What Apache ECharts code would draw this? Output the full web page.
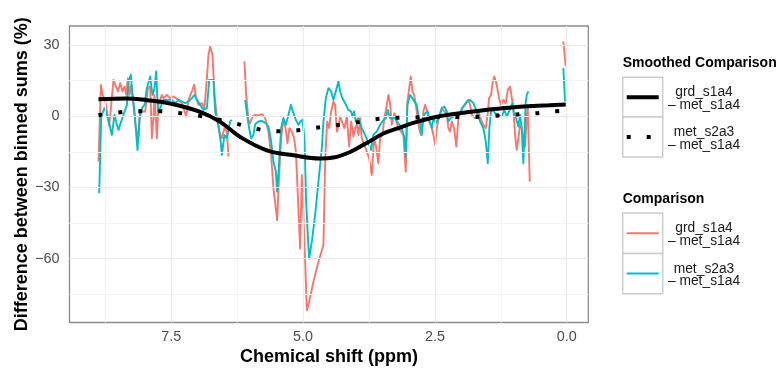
<!DOCTYPE html>
<html>
<head>
<meta charset="utf-8">
<script src="https://cdn.jsdelivr.net/npm/echarts@6/dist/echarts.min.js"></script>
<style>
  html, body { margin: 0; padding: 0; background: #ffffff; }
  #chart { width: 778px; height: 370px; }
</style>
</head>
<body>
<div id="chart"></div>
<script>
// Binned-sum differences along the chemical shift axis (ppm, reversed)

// grd_s1a4 – met_s1a4 (null marks a gap in the binned data)
const grdPpm = [8.878, 8.833, 8.802, 8.751, 8.675, 8.594, 8.548, 8.510, 8.467, 8.423,
  8.385, 8.353, 8.321, 8.290, 8.258, 8.215, 8.169, 8.120, 8.088, 7.993,
  7.942, 7.898, 7.866, 7.836, 7.817, 7.771, 7.741, 7.709, 7.676, 7.646,
  7.582, 7.519, 7.457, 7.362, 7.297, 7.216, 7.172, 7.108, 7.064, 7.032,
  6.983, 6.918, 6.869, 6.823, 6.793, 6.761, 6.717, 6.679, 6.634, 6.590,
  6.539, 6.490, 6.444, 6.414, 6.260, 6.111, 6.079, 6.035, 6.003, 5.959,
  5.908, 5.845, 5.770, 5.718, 5.656, 5.605, 5.561, 5.516, 5.491, 5.453,
  5.415, 5.372, 5.326, 5.296, 5.258, 5.212, 5.169, 5.136, 5.099, 5.055,
  5.023, 4.973, 4.928, 4.884, 4.803, 4.708, 4.613, 4.581, 4.543, 4.505,
  4.467, 4.424, 4.392, 4.359, 4.329, 4.297, 4.265, 4.215, 4.170, 4.126,
  4.088, 4.045, 4.013, 3.980, 3.950, 3.918, 3.886, 3.836, 3.791, 3.747,
  3.696, 3.652, 3.615, 3.571, 3.539, 3.495, 3.457, 3.412, 3.381, 3.349,
  3.317, 3.268, 3.222, 3.192, 3.141, 3.097, 3.052, 3.021, 2.989, 2.957,
  2.926, 2.894, 2.843, 2.800, 2.762, 2.718, 2.686, 2.654, 2.610, 2.572,
  2.528, 2.496, 2.464, 2.434, 2.401, 2.369, 2.320, 2.274, 2.244, 2.212,
  2.180, 2.136, 2.093, 2.055, 1.990, 1.928, 1.865, 1.833, 1.801, 1.738,
  1.676, 1.611, 1.581, 1.535, 1.497, 1.473, 1.435, 1.403, 1.372, 1.327,
  1.283, 1.245, 1.202, 1.156, 1.118, 1.075, 1.042, 1.012, 0.980, 0.948,
  0.917, 0.885, 0.853, 0.823, 0.790, 0.758, 0.739, 0.701, 0.380, 0.064,
  0.019];
const grdDiff = [-19.11, 13.21, 8.99, 6.75, -4.22, 15.32, 12.53, 10.42, 13.92, 10.42,
  12.53, 9.16, 16.03, 8.99, 13.21, 4.77, -5.06, -9.28, 1.98, 1.98,
  11.81, 12.53, -9.28, -0.84, 8.99, -9.28, 4.77, 6.88, 8.99, 7.59,
  8.99, 7.59, 8.31, 6.88, 5.49, -0.13, 6.88, 10.42, 13.21, 8.31,
  4.77, 5.49, 3.38, 16.03, 25.87, 29.41, 25.87, 8.99, -0.13, -6.46,
  -9.28, -5.06, -6.46, -17.00, null, 23.08, 8.99, -1.56, -2.95, -0.13,
  0.55, 0.30, 0.84, -0.84, -6.46, -16.33, -30.38, -38.82, -43.75, -24.77,
  -9.28, -0.84, -5.78, -11.39, -5.06, -6.46, -9.28, -14.89, -33.21, -55.70,
  -24.77, -52.87, -81.73, -78.19, -69.75, -61.31, -54.30, -19.11, -2.24, -5.06,
  1.98, 6.20, 4.77, -6.46, -4.35, -0.13, -0.84, -5.06, -0.13, -12.78,
  -2.24, -8.57, -5.06, -3.67, -7.89, -0.84, -9.28, -12.11, -14.89, -17.72,
  -24.77, -9.28, -12.78, -19.83, -9.28, -7.89, -0.84, 4.77, 8.99, 5.49,
  -3.67, 1.27, -2.95, -5.06, -6.46, -7.89, -23.33, 6.20, 6.88, 16.75,
  10.42, 8.99, 1.98, -5.06, -7.89, 1.98, 4.77, 2.66, -2.24, -3.67,
  -7.89, -12.11, -5.06, -1.56, 0.55, 3.38, 1.98, 0.55, -5.06, -6.46,
  -2.24, -5.06, -12.78, -0.84, 3.38, 4.77, 6.88, 4.77, 0.55, -0.84,
  1.98, -2.24, -3.67, -5.06, 1.27, 7.59, 8.99, 14.64, 16.75, 13.21,
  7.59, 4.77, 6.88, 5.49, 11.10, 12.53, 11.81, 3.38, -7.89, -14.22,
  -9.28, -3.67, -5.06, -9.28, -12.78, 0.55, 3.38, -27.55, null, 31.52,
  20.97];

// met_s2a3 – met_s1a4
const metPpm = [8.865, 8.827, 8.802, 8.764, 8.713, 8.624, 8.575, 8.529, 8.499, 8.448,
  8.404, 8.340, 8.309, 8.264, 8.234, 8.196, 8.139, 8.101, 8.055, 8.006,
  7.961, 7.898, 7.855, 7.817, 7.784, 7.752, 7.709, 7.646, 7.582, 7.487,
  7.424, 7.362, 7.297, 7.235, 7.172, 7.108, 7.058, 7.013, 6.950, 6.888,
  6.823, 6.780, 6.698, 6.666, 6.604, 6.558, 6.539, 6.490, 6.444, 6.382,
  6.350, 6.220, 6.097, 6.065, 6.022, 5.984, 5.940, 5.908, 5.845, 5.781,
  5.705, 5.656, 5.605, 5.561, 5.516, 5.491, 5.453, 5.415, 5.372, 5.326,
  5.277, 5.231, 5.182, 5.136, 5.087, 5.049, 5.011, 4.973, 4.941, 4.909,
  4.884, 4.833, 4.771, 4.708, 4.644, 4.613, 4.568, 4.519, 4.467, 4.424,
  4.392, 4.329, 4.297, 4.253, 4.202, 4.140, 4.088, 4.064, 4.032, 3.999,
  3.950, 3.886, 3.823, 3.760, 3.709, 3.666, 3.601, 3.539, 3.476, 3.431,
  3.393, 3.349, 3.306, 3.254, 3.192, 3.127, 3.078, 3.052, 3.021, 2.970,
  2.938, 2.908, 2.875, 2.843, 2.813, 2.781, 2.748, 2.718, 2.686, 2.635,
  2.591, 2.559, 2.528, 2.483, 2.434, 2.369, 2.320, 2.274, 2.244, 2.199,
  2.149, 2.085, 2.022, 1.960, 1.895, 1.833, 1.770, 1.706, 1.643, 1.581,
  1.535, 1.497, 1.467, 1.435, 1.391, 1.359, 1.327, 1.296, 1.264, 1.232,
  1.183, 1.137, 1.094, 1.056, 1.031, 0.999, 0.961, 0.917, 0.885, 0.853,
  0.823, 0.804, 0.777, 0.758, 0.728, 0.400, 0.064, 0.032];
const metDiff = [-32.49, -0.13, 0.42, 3.38, 0.42, -7.89, 0.55, -3.67, -5.78, -2.24,
  0.55, 4.77, 14.64, 17.43, 8.99, 1.98, -14.22, -0.84, 3.38, 4.77,
  11.81, 16.75, 8.99, 11.81, 18.86, 1.98, 3.38, 6.88, 6.88, 6.88,
  5.49, 6.88, 6.20, 5.49, 6.20, 7.59, 8.99, 6.88, 4.77, 2.66,
  3.38, 15.32, 15.32, 1.98, -3.67, -11.39, -16.33, -7.89, -9.28, -2.24,
  -1.56, null, 6.88, 1.27, -5.06, -9.28, -7.89, -3.38, -2.24, -1.98,
  -2.95, -4.35, -10.67, -19.11, -23.33, -31.77, -19.11, -5.06, -0.84, -3.67,
  0.55, 4.77, 1.27, -1.56, -3.67, -2.24, -1.56, -9.28, -35.99, -50.08,
  -59.92, -52.87, -41.65, -27.55, -13.50, -2.24, 7.59, 11.81, 10.42, 6.88,
  7.59, 14.64, 10.42, 7.59, 5.49, 2.66, 1.98, -0.13, 1.98, -2.24,
  -0.84, -5.06, -7.89, -11.39, -14.22, -7.89, -6.46, -3.67, -1.56, -0.84,
  2.66, -0.84, -0.84, -0.84, -2.95, -5.06, -9.28, -16.88, 4.77, 8.99,
  9.70, 6.88, 6.20, 4.77, 0.55, -2.24, -7.89, -0.84, 1.27, 1.98,
  -2.95, -5.06, -0.84, -2.95, -0.84, 3.38, 4.09, 1.98, -2.24, -0.84,
  -0.13, 0.55, 1.27, 4.09, 6.20, 6.88, 5.49, 1.98, -2.24, -5.06,
  -10.67, -19.83, -5.06, 1.98, 2.66, 1.27, 1.98, 0.55, 1.27, -0.13,
  2.66, -0.13, 1.98, 4.09, 5.49, 0.55, -0.84, -4.35, 0.55, -5.06,
  -19.83, -9.28, 6.20, 8.99, 10.42, null, 20.25, 6.20];

// Smoothed trends of both comparisons
const grdSmoothPpm = [8.878, 8.340, 7.966, 7.519, 6.950, 6.571, 6.192, 5.686, 5.182, 4.676,
  4.424, 4.107, 3.791, 3.476, 3.160, 2.843, 2.528, 2.212, 1.895, 1.581,
  1.264, 0.948, 0.633, 0.317, 0.019];
const grdSmoothDiff = [7.17, 7.47, 6.75, 5.36, 1.81, -2.41, -8.73, -14.35, -16.46, -17.80,
  -17.43, -15.06, -11.27, -7.30, -4.77, -2.41, -0.55, 0.72, 1.69, 2.53,
  3.25, 3.92, 4.35, 4.64, 4.94];
const metSmoothPpm = [8.878, 8.518, 8.139, 7.765, 7.386, 7.013, 6.274, 5.908, 5.529, 5.155,
  4.790, 4.424, 4.045, 3.666, 3.286, 2.908, 2.528, 1.770, 1.391, 1.012,
  0.645, 0.273, 0.019];
const metSmoothDiff = [0.42, 1.56, 2.11, 2.11, 1.39, 0.42, -3.08, -5.19, -6.33, -6.03,
  -4.94, -3.92, -2.83, -1.39, -0.72, -0.55, -0.30, -0.30, 0.13, 0.72,
  1.14, 1.98, 2.30];

// Axis ticks
const ppmTicks = [0, 2.5, 5, 7.5];
const ppmMinorTicks = [1.25, 3.75, 6.25, 8.75];
const diffTicks = [-60, -30, 0, 30];
const diffMinorTicks = [-75, -45, -15, 15];

// Legend entries
const smoothTitle = 'Smoothed Comparison';
const rawTitle = 'Comparison';
const comparisonNames = ['grd_s1a4\n\u2013 met_s1a4', 'met_s2a3\n\u2013 met_s1a4'];

const FONT = '"Liberation Sans", Arial, Helvetica, sans-serif';
const RED = '#F8766D';
const TEAL = '#00BFC4';

const pairs = (xs, ys) => xs.map((x, i) => [x, ys[i]]);
const fmtDiff = v => (v < 0 ? '\u2212' + Math.abs(v) : String(v));

const chart = echarts.init(document.getElementById('chart'), null, { renderer: 'canvas' });

const gridLines = [].concat(
  ppmMinorTicks.map(v => ({ xAxis: v, lineStyle: { color: '#f3f3f3', width: 1, type: 'solid' } })),
  diffMinorTicks.map(v => ({ yAxis: v, lineStyle: { color: '#f3f3f3', width: 1, type: 'solid' } })),
  ppmTicks.map(v => ({ xAxis: v, lineStyle: { color: '#e9e9e9', width: 1.1, type: 'solid' } })),
  diffTicks.map(v => ({ yAxis: v, lineStyle: { color: '#e9e9e9', width: 1.1, type: 'solid' } }))
);

// Legend drawn as boxed keys with centred two-line labels
const legendX = 622.7;
const keyW = 40;
function legendBlock(title, titleY, boxTop, boxH, keys) {
  const els = [{
    type: 'text', x: legendX, y: titleY, z: 10,
    style: { text: title, font: 'bold 14px ' + FONT, fill: '#000', align: 'left', verticalAlign: 'middle' }
  }];
  keys.forEach((k, i) => {
    const top = boxTop + i * boxH;
    const cy = top + boxH / 2;
    els.push({
      type: 'rect', z: 10,
      shape: { x: legendX, y: top, width: keyW, height: boxH },
      style: { fill: '#ffffff', stroke: '#cccccc', lineWidth: 1.5 }
    });
    els.push({
      type: 'line', z: 11,
      shape: { x1: legendX + 4, y1: cy, x2: legendX + keyW - 4, y2: cy },
      style: { stroke: k.color, lineWidth: k.width, lineDash: k.dash || null, lineCap: 'butt' }
    });
    els.push({
      type: 'text', x: 704, y: cy + 1.5, z: 10,
      style: { text: k.name, font: '13.8px ' + FONT, fill: '#1a1a1a', align: 'center', verticalAlign: 'middle', lineHeight: 12.6 }
    });
  });
  return els;
}

const graphics = [].concat(
  legendBlock(smoothTitle, 62.7, 77.3, 39.8, [
    { name: comparisonNames[0], color: '#000', width: 4 },
    { name: comparisonNames[1], color: '#000', width: 4, dash: [4, 16] }
  ]),
  legendBlock(rawTitle, 199.5, 213, 40.4, [
    { name: comparisonNames[0], color: RED, width: 2 },
    { name: comparisonNames[1], color: TEAL, width: 2 }
  ])
);

const option = {
  animation: false,
  backgroundColor: '#ffffff',
  textStyle: { fontFamily: FONT },
  grid: {
    left: 69.5, top: 26, right: 189.7, bottom: 47.5,
    show: true, borderColor: '#8c8c8c', borderWidth: 1.3, backgroundColor: '#ffffff',
    containLabel: false, outerBoundsMode: 'none'
  },
  xAxis: {
    type: 'value', inverse: true, min: -0.409, max: 9.428,
    axisLine: { show: false },
    splitLine: { show: false },
    axisTick: { show: true, customValues: ppmTicks, length: 3, lineStyle: { color: '#333333', width: 1.1 } },
    axisLabel: { customValues: ppmTicks, formatter: v => v.toFixed(1), color: '#4d4d4d', fontSize: 14.4, margin: 8, fontFamily: FONT },
    name: 'Chemical shift (ppm)', nameLocation: 'middle', nameGap: 26, nameMoveOverlap: false,
    nameTextStyle: { fontWeight: 'bold', fontSize: 18, color: '#000', fontFamily: FONT }
  },
  yAxis: {
    type: 'value', min: -86.9, max: 38,
    axisLine: { show: false },
    splitLine: { show: false },
    axisTick: { show: true, customValues: diffTicks, length: 3, lineStyle: { color: '#333333', width: 1.1 } },
    axisLabel: { customValues: diffTicks, formatter: fmtDiff, color: '#4d4d4d', fontSize: 14.4, margin: 10, fontFamily: FONT },
    name: 'Difference between binned sums (%)', nameLocation: 'middle', nameGap: 38, nameRotate: 90, nameMoveOverlap: false,
    nameTextStyle: { fontWeight: 'bold', fontSize: 18, color: '#000', fontFamily: FONT }
  },
  graphic: graphics,
  series: [
    {
      type: 'line', data: [], z: 1, silent: true,
      markLine: { silent: true, symbol: ['none', 'none'], label: { show: false }, animation: false, data: gridLines }
    },
    {
      name: 'grd_s1a4 – met_s1a4', type: 'line', z: 3, data: pairs(grdPpm, grdDiff),
      showSymbol: false, symbol: 'none', connectNulls: false, emphasis: { disabled: true },
      lineStyle: { color: RED, width: 1.9, join: 'round' }
    },
    {
      name: 'met_s2a3 – met_s1a4', type: 'line', z: 4, data: pairs(metPpm, metDiff),
      showSymbol: false, symbol: 'none', connectNulls: false, emphasis: { disabled: true },
      lineStyle: { color: TEAL, width: 1.9, join: 'round' }
    },
    {
      name: 'grd smooth', type: 'line', z: 5, data: pairs(grdSmoothPpm, grdSmoothDiff),
      smooth: 0.4, showSymbol: false, symbol: 'none', emphasis: { disabled: true },
      lineStyle: { color: '#000', width: 4, cap: 'butt' }
    },
    {
      name: 'met smooth', type: 'line', z: 6, data: pairs(metSmoothPpm, metSmoothDiff),
      smooth: 0.4, showSymbol: false, symbol: 'none', emphasis: { disabled: true },
      lineStyle: { color: '#000', width: 4, type: [4, 16], cap: 'butt' }
    }
  ]
};

chart.setOption(option);
</script>
</body>
</html>
